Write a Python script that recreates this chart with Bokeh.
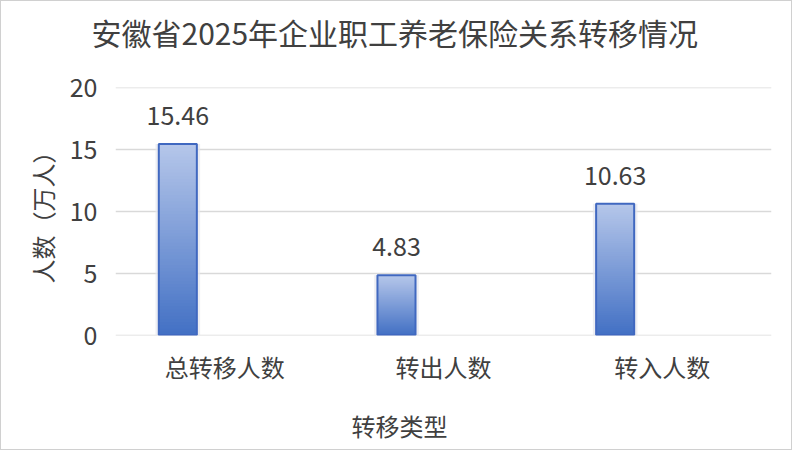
from bokeh.plotting import figure
from bokeh.models import ColumnDataSource, FactorRange, Range1d, LabelSet, Title, FixedTicker
from bokeh.transform import dodge
from bokeh.core.properties import value
from bokeh.embed import file_html
from bokeh.resources import INLINE

# ---- data ----
categories = ["总转移人数", "转出人数", "转入人数"]
values = [15.46, 4.83, 10.63]
value_labels = ["15.46", "4.83", "10.63"]
title_text = "安徽省2025年企业职工养老保险关系转移情况"
x_title = "转移类型"
y_title = "人数（万人）"
y_ticks = [0, 5, 10, 15, 20]

FONT = "Noto Sans CJK SC"
TXT = "#404040"
BAR_OFF = -0.215
BAR_W = 0.174

p = figure(width=792, height=450, output_backend="svg", toolbar_location=None,
           x_range=FactorRange(*categories, range_padding=0), y_range=Range1d(-0.04, 20.04),
           min_border_left=114, min_border_right=22, min_border_top=86, min_border_bottom=116)
p.outline_line_color = None
p.background_fill_color = "white"
p.border_fill_color = "white"
p.styles = {"border": "1px solid #d0d0d0"}

# gradient bars built from the data values
N = 60
top_rgb = (182, 199, 234)
bot_rgb = (66, 112, 196)
seg = dict(cat=[], bottom=[], top=[], color=[])
for c, v in zip(categories, values):
    for i in range(N):
        t = (i + 0.5) / N
        r, g, b = (int(round(bot_rgb[k] + (top_rgb[k] - bot_rgb[k]) * t)) for k in range(3))
        seg["cat"].append(c)
        seg["bottom"].append(v * i / N)
        seg["top"].append(min(v, v * (i + 1.6) / N))
        seg["color"].append("#%02x%02x%02x" % (r, g, b))

src = ColumnDataSource(dict(cat=categories, val=values, lab=value_labels))
seg_src = ColumnDataSource(seg)

# soft shadow
p.vbar(x=dodge("cat", BAR_OFF, range=p.x_range), top="val", width=BAR_W + 0.03, source=src,
       fill_color="#e6e7ee", fill_alpha=0.7, line_color=None)
p.vbar(x=dodge("cat", BAR_OFF, range=p.x_range), bottom="bottom", top="top", width=BAR_W,
       source=seg_src, fill_color="color", line_color=None)
p.vbar(x=dodge("cat", BAR_OFF, range=p.x_range), top="val", width=BAR_W, source=src,
       fill_color=None, line_color="#4068c0", line_width=2)

labels = LabelSet(x=dodge("cat", BAR_OFF, range=p.x_range), y="val", text="lab", source=src,
                  y_offset=19, text_align="center", text_baseline="alphabetic",
                  text_font=value(FONT), text_font_size=value("25px"), text_color=value(TXT))
p.add_layout(labels)

# axes
p.yaxis.ticker = FixedTicker(ticks=y_ticks)
p.ygrid.ticker = FixedTicker(ticks=y_ticks)
p.ygrid.grid_line_color = "#d9d9d9"
p.ygrid.grid_line_width = 1.5
p.xgrid.grid_line_color = None
for ax in (p.xaxis, p.yaxis):
    ax.axis_line_color = None
    ax.major_tick_line_color = None
    ax.minor_tick_line_color = None
    ax.major_tick_out = 0
    ax.major_tick_in = 0
    ax.major_label_text_font = FONT
    ax.major_label_text_color = TXT
p.yaxis.major_label_text_font_size = "25px"
p.xaxis.major_label_text_font_size = "24px"
p.yaxis.major_label_standoff = 18
p.xaxis.major_label_standoff = 13

# titles (thin spacers keep them at the reference distance from the plot area)
p.add_layout(Title(text=" ", text_font_size="1px", standoff=31), "above")
p.add_layout(Title(text=title_text, align="left", offset=-24, standoff=0,
                   text_font=FONT, text_font_size="30px", text_font_style="normal",
                   text_color=TXT), "above")
p.add_layout(Title(text=" ", text_font_size="1px", standoff=16), "below")
p.add_layout(Title(text=x_title, align="left", offset=236, standoff=0,
                   text_font=FONT, text_font_size="24px", text_font_style="normal",
                   text_color=TXT), "below")
p.add_layout(Title(text=y_title, align="center", standoff=14,
                   text_font=FONT, text_font_size="24px", text_font_style="normal",
                   text_color=TXT), "left")

open("out.html", "w").write(file_html(p, INLINE))
